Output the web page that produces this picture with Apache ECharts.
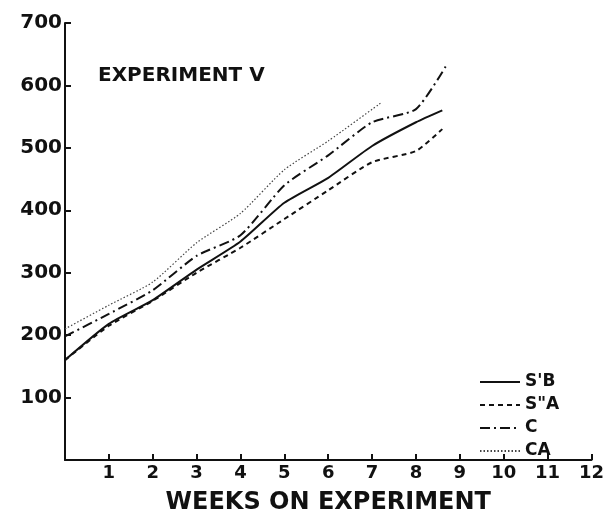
<!DOCTYPE html>
<html>
<head>
<meta charset="utf-8">
<script src="https://cdn.jsdelivr.net/npm/echarts@6/dist/echarts.min.js"></script>
<style>html,body{margin:0;padding:0;background:#fff}#c{width:607px;height:520px}</style>
</head>
<body>
<div id="c"></div>
<script>
// Data
var seriesNames = ["S'B", 'S"A', 'C', 'CA'];
var weeksSB = [0, 1, 2, 3, 4, 5, 6, 7, 8, 8.6];
var valuesSB = [160, 218, 256, 305, 350, 412, 452, 503, 541, 560];
var weeksSA = [0, 1, 2, 3, 4, 5, 6, 7, 8, 8.6];
var valuesSA = [160, 215, 255, 300, 340, 386, 432, 477, 495, 530];
var weeksC = [0, 1, 2, 3, 4, 5, 6, 7, 8, 8.7];
var valuesC = [198, 234, 272, 327, 360, 440, 488, 541, 562, 633];
var weeksCA = [0, 1, 2, 3, 4, 5, 6, 7.2];
var valuesCA = [210, 248, 285, 348, 395, 465, 511, 572];
var titleText = 'EXPERIMENT Ⅴ';
var xAxisName = 'WEEKS ON EXPERIMENT';

function pairs(xs, ys) { return xs.map(function (x, i) { return [x, ys[i]]; }); }

var font = 'DejaVu Sans';
var chart = echarts.init(document.getElementById('c'), null, {renderer: 'canvas'});
chart.setOption({
  animation: false,
  backgroundColor: '#fff',
  title: {
    text: titleText, left: 93, top: 61,
    textStyle: {fontFamily: font, fontSize: 20, fontWeight: 'bold', color: '#111'}
  },
  legend: {
    orient: 'vertical', left: 474, top: 368, itemGap: 5,
    itemWidth: 40, itemHeight: 14,
    data: seriesNames,
    itemStyle: {opacity: 0},
    textStyle: {fontFamily: font, fontSize: 17, fontWeight: 'bold', lineHeight: 18, color: '#111'}
  },
  grid: {left: 65, right: 10, top: 23, bottom: 55},
  xAxis: {
    type: 'value', min: 0, max: 12, interval: 1,
    name: xAxisName, nameLocation: 'middle', nameGap: 31,
    nameTextStyle: {fontFamily: font, fontSize: 24, fontWeight: 'bold', color: '#111'},
    axisLine: {lineStyle: {color: '#111', width: 2}},
    axisTick: {inside: true, length: 6, lineStyle: {color: '#111', width: 2}},
    axisLabel: {showMinLabel: false, fontFamily: font, fontSize: 18, fontWeight: 'bold', color: '#111', margin: 4},
    splitLine: {show: false}
  },
  yAxis: {
    type: 'value', min: 0, max: 700, interval: 100,
    axisLine: {show: true, lineStyle: {color: '#111', width: 2}},
    axisTick: {show: true, inside: true, length: 6, lineStyle: {color: '#111', width: 2}},
    axisLabel: {showMinLabel: false, fontFamily: font, fontSize: 20, fontWeight: 'bold', color: '#111', margin: 3},
    splitLine: {show: false}
  },
  series: [
    {name: seriesNames[0], type: 'line', showSymbol: false, symbol: 'none', smooth: 0.2,
     data: pairs(weeksSB, valuesSB), lineStyle: {color: '#111', width: 2, type: 'solid'}, itemStyle: {color: '#111'}},
    {name: seriesNames[1], type: 'line', showSymbol: false, symbol: 'none', smooth: 0.2,
     data: pairs(weeksSA, valuesSA), lineStyle: {color: '#111', width: 2, type: [5, 4]}, itemStyle: {color: '#111'}},
    {name: seriesNames[2], type: 'line', showSymbol: false, symbol: 'none', smooth: 0.2,
     data: pairs(weeksC, valuesC), lineStyle: {color: '#111', width: 2, type: [10, 4, 2, 4]}, itemStyle: {color: '#111'}},
    {name: seriesNames[3], type: 'line', showSymbol: false, symbol: 'none', smooth: 0.2,
     data: pairs(weeksCA, valuesCA), lineStyle: {color: '#444', width: 1.2, type: [1.5, 2]}, itemStyle: {color: '#444'}}
  ]
});
</script>
</body>
</html>
